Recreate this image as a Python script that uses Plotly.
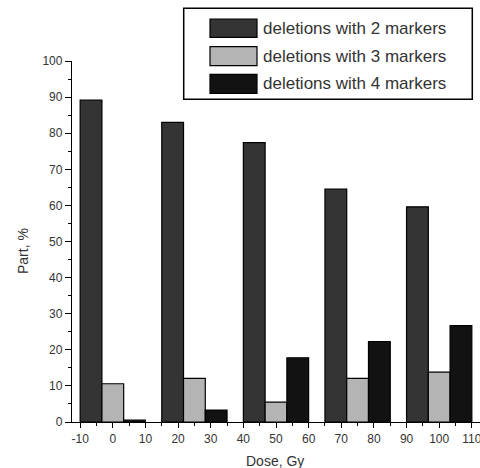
import plotly.graph_objects as go

doses = [0, 25, 50, 75, 100]
series_names = ["deletions with 2 markers", "deletions with 3 markers", "deletions with 4 markers"]
two_markers = [89.2, 83.0, 77.4, 64.5, 59.6]
three_markers = [10.6, 12.1, 5.5, 12.1, 13.8]
four_markers = [0.5, 3.3, 17.8, 22.3, 26.7]
series_values = [two_markers, three_markers, four_markers]
colors = ["#343434", "#b4b4b4", "#121212"]

x_ticks = list(range(-10, 111, 10))
x_tick_labels = [str(v) for v in x_ticks]
y_ticks = list(range(0, 101, 10))

W, H = 480, 468
L, R, T, B = 72, 0, 61, 46
pw, ph = W - L - R, H - T - B

def px_x(x):
    return (x - L) / pw

def px_y(y):
    return (H - B - y) / ph

fig = go.Figure()
for name, vals, col in zip(series_names, series_values, colors):
    fig.add_trace(go.Bar(x=doses, y=vals, name=name,
                         marker=dict(color=col, line=dict(color="#000000", width=1.2)),
                         showlegend=False))

font = "Liberation Sans, Arial, sans-serif"
axis_common = dict(showline=True, linecolor="#000000", linewidth=1.3, ticks="outside",
                   tickcolor="#000000", tickwidth=1.3, showgrid=False, zeroline=False,
                   automargin=False, ticklabeloverflow="allow",
                   tickfont=dict(family=font, size=12, color="#333333"))
fig.update_layout(
    template="none",
    width=W, height=H,
    margin=dict(l=L, r=R, t=T, b=B),
    paper_bgcolor="white", plot_bgcolor="white",
    barmode="group", bargap=0.2, bargroupgap=0,
    showlegend=False,
    xaxis=dict(range=[-12.5, 112.5], tickvals=x_ticks, ticktext=x_tick_labels, ticklen=5,
               minor=dict(dtick=5, tick0=-5, ticklen=3, ticks="outside", tickcolor="#000000", tickwidth=1.3),
               **axis_common),
    yaxis=dict(range=[0, 100], tickvals=y_ticks, ticklen=6,
               minor=dict(dtick=5, tick0=5, ticklen=3, ticks="outside", tickcolor="#000000", tickwidth=1.3),
               **axis_common),
)

# axis titles
fig.add_annotation(text="Dose, Gy", xref="paper", yref="paper", x=px_x(275), y=px_y(461),
                   xanchor="center", yanchor="middle",
                   showarrow=False, font=dict(family=font, size=14, color="#333333"))
fig.add_annotation(text="Part, %", xref="paper", yref="paper", x=px_x(23), y=px_y(251),
                   xanchor="center", yanchor="middle",
                   textangle=-90, showarrow=False, font=dict(family=font, size=14, color="#333333"))

# legend box
fig.add_shape(type="rect", xref="paper", yref="paper", x0=px_x(183.7), x1=px_x(472.3),
              y0=px_y(99.3), y1=px_y(8.3), line=dict(color="#000000", width=1.5), fillcolor="white")
rows = [(19, 37.3), (46.7, 65.7), (74.3, 93.3)]
for (ya, yb), name, col in zip(rows, series_names, colors):
    fig.add_shape(type="rect", xref="paper", yref="paper", x0=px_x(210), x1=px_x(257),
                  y0=px_y(yb), y1=px_y(ya), line=dict(color="#000000", width=1.2), fillcolor=col)
    fig.add_annotation(text=name, xref="paper", yref="paper", x=px_x(261), y=px_y((ya + yb) / 2),
                       xanchor="left", yanchor="middle", showarrow=False,
                       font=dict(family=font, size=17, color="#333333"))

fig.write_html("out.html", config={"displayModeBar": False},
               post_script="document.body.style.margin='0';document.body.style.overflow='hidden';")
